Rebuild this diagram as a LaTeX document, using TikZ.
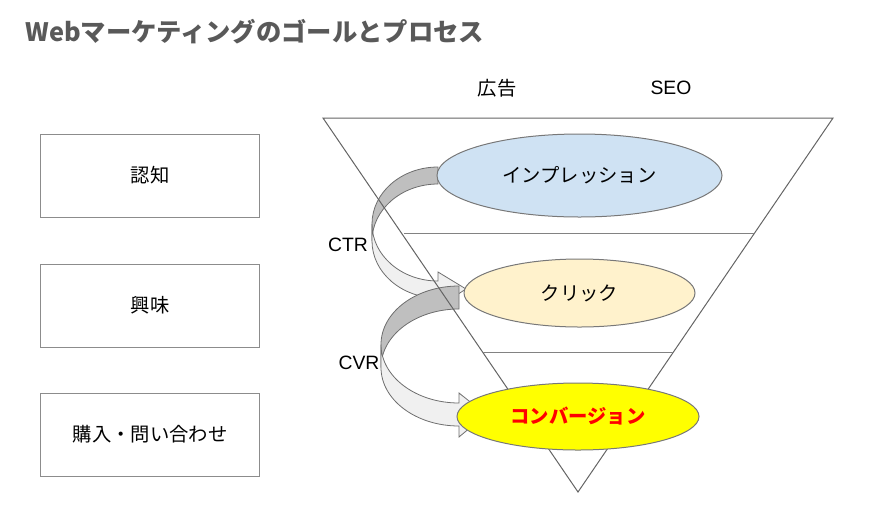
\documentclass[tikz,border=0pt]{standalone}
\usepackage{fontspec}
\setmainfont{Noto Sans CJK JP}
\newfontfamily\latinfont{Liberation Sans}
\usetikzlibrary{shapes.geometric}

\tikzset{every picture/.style={line width=0.75pt}}
\tikzset{
	stagebox/.style={draw={rgb, 255:red, 140; green, 140; blue, 140 }, minimum width=163.9pt, minimum height=62.25pt, inner sep=0pt, font=\fontsize{14.5}{17}\selectfont},
	funnelring/.style={ellipse, draw={rgb, 255:red, 120; green, 120; blue, 120 }, inner sep=0pt, font=\fontsize{14.5}{17}\selectfont},
	backband/.style={draw={rgb, 255:red, 110; green, 110; blue, 110 }, fill={rgb, 255:red, 191; green, 191; blue, 191 }, line width=0.6pt},
	frontband/.style={draw={rgb, 255:red, 110; green, 110; blue, 110 }, fill={rgb, 255:red, 240; green, 240; blue, 240 }, line width=0.6pt},
	rate/.style={font=\latinfont\fontsize{14.5}{17}\selectfont}
}

\begin{document}
\begin{tikzpicture}[x=0.75pt,y=0.75pt,yscale=-1,xscale=1]
	\useasboundingbox (0,0) rectangle (895,529);

	%Curved Arrow: CTR (back part)
	\draw [backband] (438,167) arc [start angle=270, end angle=180, x radius=66, y radius=57] -- (372,241) arc [start angle=180, end angle=270, x radius=66, y radius=57] -- cycle ;
	%Curved Arrow: CTR (front part)
	\draw [frontband] (372,224) arc [start angle=180, end angle=90, x radius=66, y radius=57] -- (438,272) -- (466,289) -- (438,307) -- (438,298) arc [start angle=90, end angle=180, x radius=66, y radius=57] -- cycle ;
	%Curved Arrow: CVR (back part)
	\draw [backband] (459,286) arc [start angle=270, end angle=180, x radius=78, y radius=58.5] -- (381,367.5) arc [start angle=180, end angle=270, x radius=78, y radius=58.5] -- cycle ;
	%Curved Arrow: CVR (front part)
	\draw [frontband] (381,344.5) arc [start angle=180, end angle=90, x radius=78, y radius=58.5] -- (459,393) -- (486,414.5) -- (459,437) -- (459,426) arc [start angle=90, end angle=180, x radius=78, y radius=58.5] -- cycle ;

	%Shape: Triangle [id:funnel]
	\draw [color={rgb, 255:red, 100; green, 100; blue, 100 }] (323,118) coordinate (ftl) -- (833,118) coordinate (ftr) -- (578,492) coordinate (fap) -- cycle ;
	%Straight Lines
	\draw [color={rgb, 255:red, 130; green, 130; blue, 130 }] (404,233) -- (754,233) ;
	%Straight Lines
	\draw [color={rgb, 255:red, 130; green, 130; blue, 130 }] (483,352.5) -- (673,352.5) ;

	%Shape: Ellipse
	\draw (579.5,175.5) node [funnelring, fill={rgb, 255:red, 207; green, 226; blue, 243 }, minimum width=213.75pt, minimum height=62.25pt] (imp) {インプレッション};
	%Shape: Ellipse
	\draw (579.5,293) node [funnelring, fill={rgb, 255:red, 255; green, 242; blue, 204 }, minimum width=173.25pt, minimum height=51pt] (clk) {クリック};
	%Shape: Ellipse
	\draw (578,416.5) node [funnelring, fill={rgb, 255:red, 255; green, 255; blue, 0 }, minimum width=181.5pt, minimum height=50.25pt, text={rgb, 255:red, 255; green, 0; blue, 0 }, font=\fontsize{14.5}{17}\selectfont\bfseries] (cv) {コンバージョン};

	%Shape: Rectangle
	\draw (150,175.5) node [stagebox] (ninchi) {認知};
	%Shape: Rectangle
	\draw (150,305.5) node [stagebox] (kyomi) {興味};
	%Shape: Rectangle
	\draw (150,434.5) node [stagebox] (kounyu) {購入・問い合わせ};

	% Text Node
	\draw (25,32) node [anchor=west, text={rgb, 255:red, 89; green, 89; blue, 89 }, font=\fontsize{19}{23}\selectfont\bfseries, inner sep=0pt] (title) {Webマーケティングのゴールとプロセス};
	% Text Node
	\draw (497,88) node [font=\fontsize{14.5}{17}\selectfont] (ad) {広告};
	% Text Node
	\draw (671,88) node [rate] (seo) {SEO};
	% Text Node
	\draw (348,245) node [rate] (ctr) {CTR};
	% Text Node
	\draw (359,363) node [rate] (cvr) {CVR};

\end{tikzpicture}
\end{document}
